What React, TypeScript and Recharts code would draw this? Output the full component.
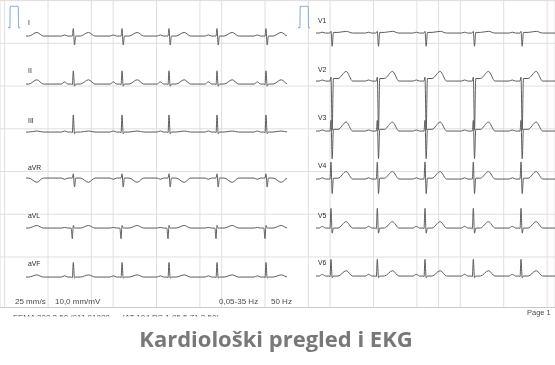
import React from 'react';
import { LineChart, Line, XAxis, YAxis, CartesianGrid, ReferenceLine } from 'recharts';

// Recording scale: 25 mm/s, 10 mm/mV (1 cm grid squares)
const PX_PER_SEC = 54.25;
const PX_PER_MV = 21.35;

const leads = ['I', 'II', 'III', 'aVR', 'aVL', 'aVF', 'V1', 'V2', 'V3', 'V4', 'V5', 'V6'];

// QRS times (s) from the start of each strip
const limbBeats = [-0.08, 0.872, 1.77, 2.636, 3.521, 4.424];
const chestBeats = [0.276, 1.13, 2.009, 2.9, 3.779];

// Wave amplitudes (mV), one entry per lead in the order above
const pAmp = [0.05, 0.1, 0.05, -0.06, 0.03, 0.06, 0.04, 0.05, 0.05, 0.06, 0.08, 0.08];
const qAmp = [0, -0.03, -0.03, 0, -0.5, -0.03, 0, 0, 0, 0, -0.03, -0.03];
const rAmp = [0.35, 0.62, 0.8, 0.2, 0.12, 0.68, 0.08, 0.18, 0.5, 0.8, 0.92, 0.78];
const sAmp = [-0.42, -0.1, -0.08, -0.42, 0, -0.05, -0.62, -2.3, -1.3, -0.68, -0.24, -0.08];
const stAmp = [0, 0, 0, 0, 0, 0, 0.03, 0.12, 0.08, 0.04, 0, 0];
const tAmp = [0.17, 0.2, 0.05, -0.2, 0.12, 0.1, 0.08, 0.45, 0.42, 0.35, 0.3, 0.25];

// Calibration pulse (1 mV)
const pulseTimes = [0, 0.035, 0.04, 0.05, 0.18, 0.19, 0.195, 0.23];
const pulseValues = [0, 0, 0.96, 1, 1, 0.96, 0, 0];

// Footer texts
const footerTop = ['25 mm/s', '10,0 mm/mV', '0,05-35 Hz', '50 Hz'];
const footerBottom = ['FEMA 200 2.50 /911 01888', '(AT 104 PC 1.85 5.71 2.50)'];
const pageLabel = 'Page 1';
const title = 'Kardiološki pregled i EKG';

// ---- layout ----
const STRIP_DUR = [4.81, 4.41];
const STRIP_LEFT = [26, 316];
const BASELINES = [
  [36, 84, 132, 178, 228, 277],
  [33, 81, 131, 179, 228, 276],
];
const LABEL_X = [28, 318];
const LABEL_Y = [
  [24.5, 73, 122.5, 169.5, 217.5, 265.5],
  [23, 72, 119.5, 167.5, 217.5, 264.5],
];
const PULSE_LEFT = [8, 298];
const FOOTER_TOP_X = [15, 55, 219, 271];
const FOOTER_BOTTOM_X = [13, 122];

const Y_RANGE = 3; // mV above/below baseline in each lead plot
const TRACE = '#5c5c5c';

// timing of the wave landmarks relative to the R peak (s)
const OFF = {
  pStart: -0.22, pPeak: -0.16, pEnd: -0.1, qrsStart: -0.04,
  q: -0.018, r: 0, s: 0.022, j: 0.045, stEnd: 0.13, tPeak: 0.28, tEnd: 0.4,
};

function buildTrace(li: number, beats: number[], dur: number) {
  const pts: { t: number; v: number }[] = [{ t: -1, v: 0 }];
  beats.forEach((b) => {
    pts.push(
      { t: b + OFF.pStart, v: 0 },
      { t: b + OFF.pPeak, v: pAmp[li] },
      { t: b + OFF.pEnd, v: 0 },
      { t: b + OFF.qrsStart, v: 0 },
      { t: b + OFF.q, v: qAmp[li] },
      { t: b + OFF.r, v: rAmp[li] },
      { t: b + OFF.s, v: sAmp[li] },
      { t: b + OFF.j, v: stAmp[li] },
      { t: b + OFF.stEnd, v: stAmp[li] },
      { t: b + OFF.tPeak, v: tAmp[li] },
      { t: b + OFF.tEnd, v: 0 },
    );
  });
  pts.push({ t: dur + 1, v: 0 });
  return pts;
}

const pulseData = pulseTimes.map((t, i) => ({ t, v: pulseValues[i] }));

function LeadPlot({ li, col, row }: { li: number; col: number; row: number }) {
  const dur = STRIP_DUR[col];
  const beats = col === 0 ? limbBeats : chestBeats;
  const w = dur * PX_PER_SEC;
  const h = 2 * Y_RANGE * PX_PER_MV;
  const data = buildTrace(li, beats, dur);
  return (
    <div style={{ position: 'absolute', left: STRIP_LEFT[col], top: BASELINES[col][row] - h / 2 }}>
      <LineChart width={w} height={h} data={data} margin={{ top: 0, right: 0, bottom: 0, left: 0 }}>
        <XAxis dataKey="t" type="number" domain={[0, dur]} hide allowDataOverflow />
        <YAxis type="number" domain={[-Y_RANGE, Y_RANGE]} hide allowDataOverflow />
        <Line dataKey="v" type="monotone" stroke={TRACE} strokeWidth={1} dot={false} isAnimationActive={false} />
      </LineChart>
    </div>
  );
}

function Pulse({ col }: { col: number }) {
  const w = 0.23 * PX_PER_SEC;
  const h = 1.4 * PX_PER_MV;
  return (
    <div style={{ position: 'absolute', left: PULSE_LEFT[col], top: 28 - 1.2 * PX_PER_MV }}>
      <LineChart width={w} height={h} data={pulseData} margin={{ top: 0, right: 0, bottom: 0, left: 0 }}>
        <XAxis dataKey="t" type="number" domain={[0, 0.23]} hide />
        <YAxis type="number" domain={[-0.2, 1.2]} hide />
        <Line dataKey="v" type="linear" stroke="#8ab4da" strokeWidth={1.1} dot={false} isAnimationActive={false} />
      </LineChart>
    </div>
  );
}

// paper grid: 0.4 s columns, 1 cm rows
const gridX = Array.from({ length: 26 }, (_, i) => +(i * 0.4).toFixed(2));
const gridY = Array.from({ length: 14 }, (_, i) => i + 1);

function Paper() {
  const w = 555;
  const h = 308;
  const x0 = -4.6 / PX_PER_SEC;
  const x1 = (w - 4.6) / PX_PER_SEC;
  const yTop = 299.5 / PX_PER_MV;
  const yBot = -8.3 / PX_PER_MV;
  return (
    <div style={{ position: 'absolute', left: 0, top: 0 }}>
      <LineChart width={w} height={h} data={[]} margin={{ top: 0, right: 0, bottom: 0, left: 0 }}>
        <XAxis type="number" dataKey="t" domain={[x0, x1]} ticks={gridX} hide allowDataOverflow />
        <YAxis type="number" domain={[yBot, yTop]} ticks={gridY} hide allowDataOverflow />
        <CartesianGrid stroke="#e3dede" strokeWidth={1} />
        <ReferenceLine y={yBot + 0.02} stroke="#c8c8c8" strokeWidth={1} />
      </LineChart>
    </div>
  );
}

export default function App() {
  return (
    <div
      style={{
        position: 'absolute', left: 0, top: 0, width: 555, height: 365,
        background: '#ffffff', overflow: 'hidden',
      }}
    >
      <Paper />
      {[0, 1].map((col) => <Pulse key={'p' + col} col={col} />)}
      {leads.map((_, li) => {
        const col = li < 6 ? 0 : 1;
        const row = li % 6;
        return <LeadPlot key={leads[li]} li={li} col={col} row={row} />;
      })}
      <svg
        width={555}
        height={365}
        style={{ position: 'absolute', left: 0, top: 0, willChange: 'transform' }}
      >
        <defs>
          <clipPath id="paperEdge">
            <rect x={0} y={0} width={555} height={316.5} />
          </clipPath>
        </defs>
        <g fontFamily="'Liberation Sans', Arial, sans-serif" fill="#2a2a2a" fontSize={6.8}>
          {leads.map((name, li) => {
            const col = li < 6 ? 0 : 1;
            const row = li % 6;
            return (
              <text key={name} x={LABEL_X[col]} y={LABEL_Y[col][row]}>{name}</text>
            );
          })}
        </g>
        <g fontFamily="'Liberation Sans', Arial, sans-serif" fill="#4a4a4a" fontSize={8}>
          {footerTop.map((s, i) => (
            <text key={s} x={FOOTER_TOP_X[i]} y={304}>{s}</text>
          ))}
          <text x={527} y={315} fontSize={7.5}>{pageLabel}</text>
          <g clipPath="url(#paperEdge)">
            {footerBottom.map((s, i) => (
              <text key={s} x={FOOTER_BOTTOM_X[i]} y={319.5}>{s}</text>
            ))}
          </g>
        </g>
        <text
          x={276}
          y={347}
          textAnchor="middle"
          fontFamily="'Open Sans', sans-serif"
          fontWeight={700}
          fontSize={22}
          fill="#787878"
        >
          {title}
        </text>
      </svg>
    </div>
  );
}
